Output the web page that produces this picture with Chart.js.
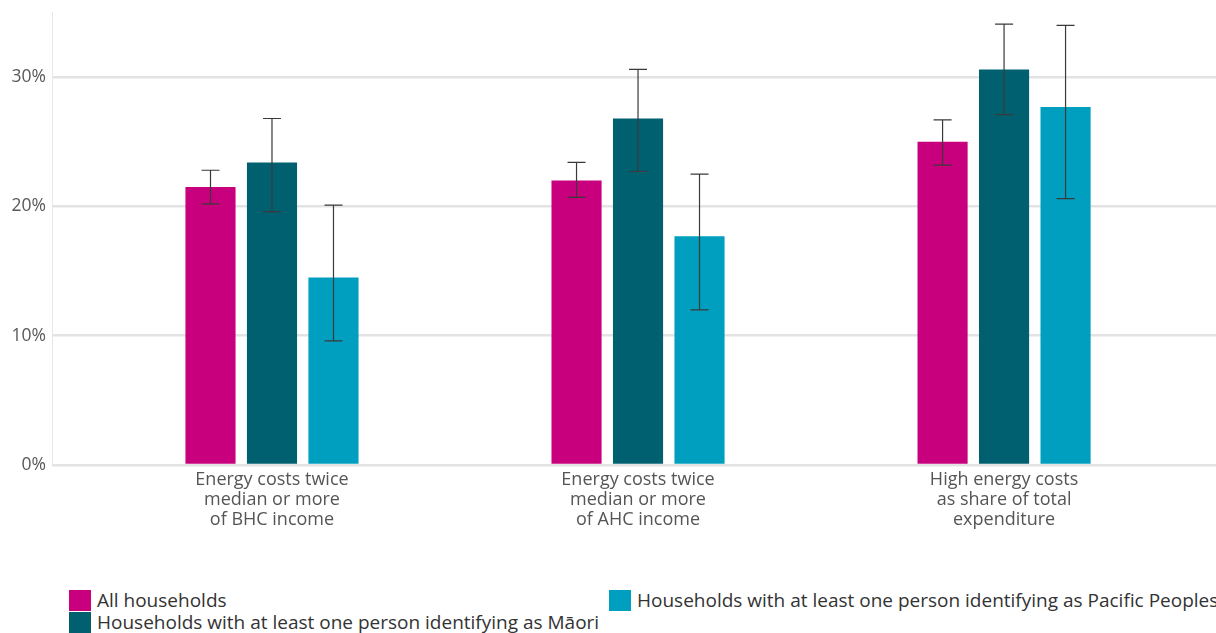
<!DOCTYPE html>
<html>
<head>
<meta charset="utf-8">
<script src="https://cdn.jsdelivr.net/npm/chart.js@4.4.1/dist/chart.umd.min.js"></script>
<style>
    html, body { margin: 0; padding: 0; background: #fff; overflow: hidden; }
    #wrap { position: relative; width: 1216px; height: 633px; overflow: hidden; }
    #chart { position: absolute; left: 0; top: -4px; }
    #legend {
        position: absolute; left: 69px; top: 589px;
        display: grid; grid-template-columns: 540px auto; grid-template-rows: 22px 22px;
        grid-auto-flow: column;
        font-family: "Open Sans", sans-serif; font-size: 19px; color: #333;
        white-space: nowrap;
    }
    .item { display: flex; align-items: center; height: 22px; }
    .box { width: 22px; height: 21px; margin-right: 6px; flex: none; }
</style>
</head>
<body>
<div id="wrap">
    <canvas id="chart" width="1216" height="560"></canvas>
    <div id="legend"></div>
</div>
<script>
// 数据
const categories = [
    ['Energy costs twice', 'median or more', 'of BHC income'],
    ['Energy costs twice', 'median or more', 'of AHC income'],
    ['High energy costs', 'as share of total', 'expenditure']
];
const seriesNames = [
    'All households',
    'Households with at least one person identifying as Māori',
    'Households with at least one person identifying as Pacific Peoples'
];
const seriesColors = ['#c8007d', '#006070', '#009ebf'];

const allHouseholds = [21.5, 22.0, 25.0];
const allLow = [20.2, 20.7, 23.2];
const allHigh = [22.8, 23.4, 26.7];

const maori = [23.4, 26.8, 30.6];
const maoriLow = [19.6, 22.7, 27.1];
const maoriHigh = [26.8, 30.6, 34.1];

const pacific = [14.5, 17.7, 27.7];
const pacificLow = [9.6, 12.0, 20.6];
const pacificHigh = [20.1, 22.5, 34.0];

const yTicks = [0, 10, 20, 30];
const yMax = 35;

// 误差线插件
const errorBars = {
    id: 'errorBars',
    afterDatasetsDraw(chart) {
        const ctx = chart.ctx;
        const y = chart.scales.y;
        chart.data.datasets.forEach((ds, i) => {
            const meta = chart.getDatasetMeta(i);
            meta.data.forEach((bar, j) => {
                const top = y.getPixelForValue(ds.errHigh[j]);
                const bot = y.getPixelForValue(ds.errLow[j]);
                ctx.save();
                ctx.strokeStyle = '#3a3a3a';
                ctx.lineWidth = 1.2;
                ctx.beginPath();
                ctx.moveTo(bar.x, top); ctx.lineTo(bar.x, bot);
                ctx.moveTo(bar.x - 9, top); ctx.lineTo(bar.x + 9, top);
                ctx.moveTo(bar.x - 9, bot); ctx.lineTo(bar.x + 9, bot);
                ctx.stroke();
                ctx.restore();
            });
        });
    }
};

const values = [allHouseholds, maori, pacific];
const lows = [allLow, maoriLow, pacificLow];
const highs = [allHigh, maoriHigh, pacificHigh];

const chart = new Chart(document.getElementById('chart').getContext('2d'), {
    type: 'bar',
    data: {
        labels: categories,
        datasets: seriesNames.map((name, i) => ({
            label: name,
            data: values[i],
            errLow: lows[i],
            errHigh: highs[i],
            backgroundColor: seriesColors[i],
            categoryPercentage: 0.504,
            barPercentage: 0.815
        }))
    },
    options: {
        responsive: false,
        animation: false,
        layout: { padding: { top: 7, right: 0, bottom: 10, left: 0 } },
        plugins: {
            legend: { display: false },
            tooltip: { enabled: false }
        },
        scales: {
            x: {
                grid: { display: false, drawTicks: false },
                border: { display: false },
                afterBuildTicks(scale) {
                    // 左侧留白比类别间距的一半更宽
                    scale._startValue = -0.601;
                    scale._valueRange = 3.18;
                },
                afterFit(scale) { scale.height = 81; },
                ticks: {
                    color: '#555',
                    padding: 5,
                    maxRotation: 0,
                    autoSkip: false,
                    font: { family: 'Open Sans', size: 18, lineHeight: 1.11 }
                }
            },
            y: {
                min: 0,
                max: yMax,
                afterBuildTicks(scale) {
                    scale.ticks = yTicks.map(v => ({ value: v }));
                },
                afterFit(scale) { scale.width = 52; },
                grid: { color: '#e3e3e3', lineWidth: 2.5, drawTicks: false },
                border: { display: true, color: '#e6e6e6', width: 1 },
                ticks: {
                    color: '#595959',
                    padding: 6,
                    font: { family: 'Open Sans', size: 17.5 },
                    callback: v => v + '%'
                }
            }
        }
    },
    plugins: [errorBars]
});

// 图例
const legend = document.getElementById('legend');
chart.data.datasets.forEach(ds => {
    const item = document.createElement('div');
    item.className = 'item';
    item.innerHTML = `<span class="box" style="background:${ds.backgroundColor}"></span><span>${ds.label}</span>`;
    legend.appendChild(item);
});
</script>
</body>
</html>
